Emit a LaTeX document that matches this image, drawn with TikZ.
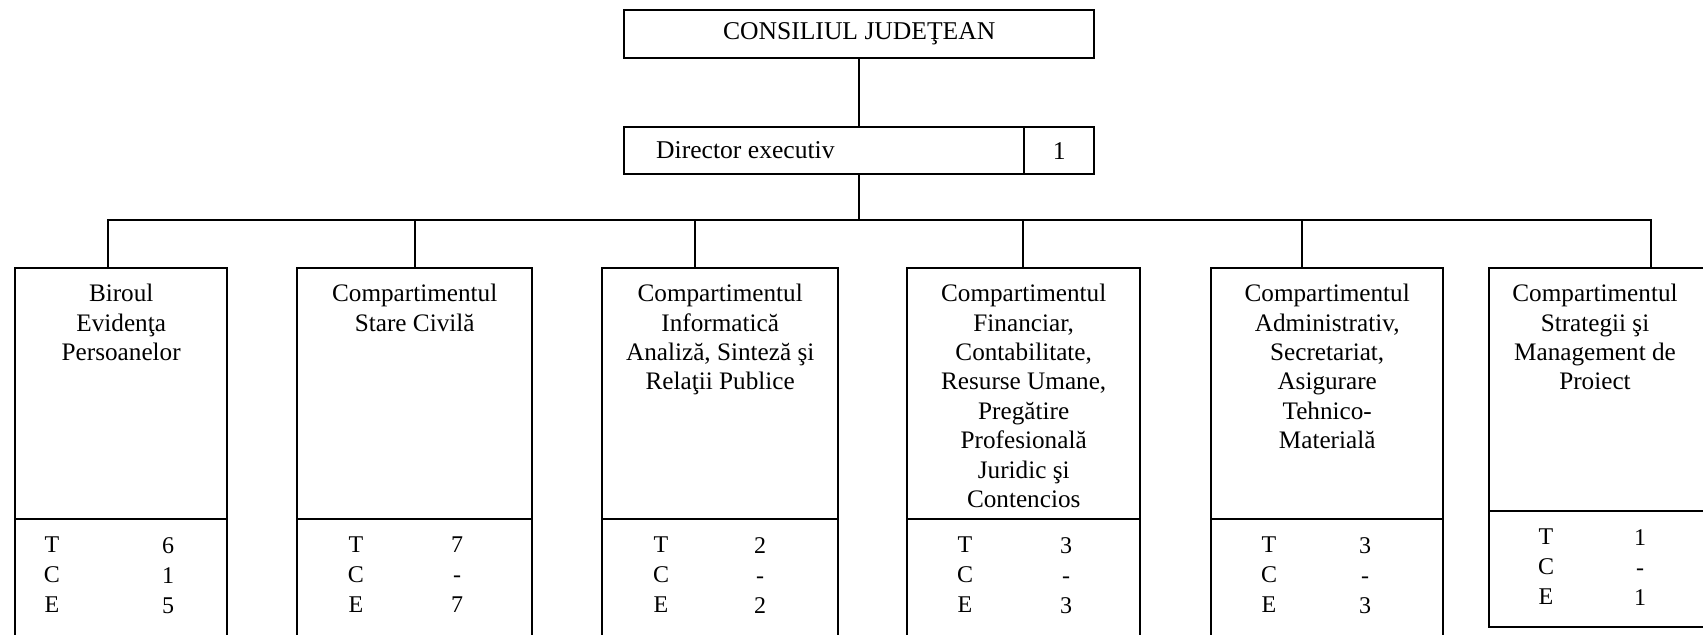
\documentclass[tikz,border=0pt]{standalone}
\usepackage{fontspec}
\setmainfont{Liberation Serif}
\begin{document}
\begin{tikzpicture}[x=0.5pt,y=-0.5pt,line width=1.2pt,
  box/.style={draw, rectangle, inner sep=0pt, anchor=north west},
  ttl/.style={anchor=north, align=center, inner sep=0pt, font=\fontsize{12.6}{14.7}\selectfont},
  tce/.style={anchor=north, align=center, inner sep=0pt, font=\fontsize{12}{15}\selectfont},
  lbl/.style={inner sep=0pt, font=\fontsize{12.8}{15}\selectfont}]
\useasboundingbox (0,0) rectangle (1703,635);

% top boxes
\node[box, minimum width=235pt, minimum height=24pt, font=\fontsize{12.8}{15}\selectfont] (cj) at (623,9) {CONSILIUL JUDEŢEAN};
\node[box, minimum width=200pt, minimum height=23.5pt] (dir) at (623,126) {};
\node[box, minimum width=35pt, minimum height=23.5pt] (dirn) at (1023,126) {};
\node[lbl, anchor=west] (dirt) at (655,150) {Director executiv};
\node[lbl] (dirv) at (dirn.center) {1};

% department boxes: upper (title) and lower (counts)
\node[box, minimum width=106pt,   minimum height=125.5pt] (u1) at (14,267) {};
\node[box, minimum width=106pt,   minimum height=63.5pt]  (l1) at (14,518) {};
\node[box, minimum width=117.5pt, minimum height=125.5pt] (u2) at (296,267) {};
\node[box, minimum width=117.5pt, minimum height=63.5pt]  (l2) at (296,518) {};
\node[box, minimum width=118pt,   minimum height=125.5pt] (u3) at (601,267) {};
\node[box, minimum width=118pt,   minimum height=63.5pt]  (l3) at (601,518) {};
\node[box, minimum width=116.5pt, minimum height=125.5pt] (u4) at (906,267) {};
\node[box, minimum width=116.5pt, minimum height=63.5pt]  (l4) at (906,518) {};
\node[box, minimum width=116pt,   minimum height=125.5pt] (u5) at (1210,267) {};
\node[box, minimum width=116pt,   minimum height=63.5pt]  (l5) at (1210,518) {};
\node[box, minimum width=110pt,   minimum height=121.5pt] (u6) at (1488,267) {};
\node[box, minimum width=110pt,   minimum height=58pt]    (l6) at (1488,510) {};

% titles
\node[ttl] (t1) at ([yshift=-8pt]u1.north) {Biroul\\Evidenţa\\Persoanelor};
\node[ttl] (t2) at ([yshift=-8pt]u2.north) {Compartimentul\\Stare Civilă};
\node[ttl] (t3) at ([yshift=-8pt]u3.north) {Compartimentul\\Informatică\\Analiză, Sinteză şi\\Relaţii Publice};
\node[ttl] (t4) at ([yshift=-8pt]u4.north) {Compartimentul\\Financiar,\\Contabilitate,\\Resurse Umane,\\Pregătire\\Profesională\\Juridic şi\\Contencios};
\node[ttl] (t5) at ([yshift=-8pt]u5.north) {Compartimentul\\Administrativ,\\Secretariat,\\Asigurare\\Tehnico-\\Materială};
\node[ttl] (t6) at (1595,283) {Compartimentul\\Strategii şi\\Management de\\Proiect};

% counts
\node[tce] (k1) at (52,536)   {T\\C\\E};
\node[tce] (n1) at (168,536)  {\vphantom{T}6\\1\\5};
\node[tce] (k2) at (356,536)  {T\\C\\E};
\node[tce] (n2) at (457,536)  {\vphantom{T}7\\-\\7};
\node[tce] (k3) at (661,536)  {T\\C\\E};
\node[tce] (n3) at (760,536)  {\vphantom{T}2\\-\\2};
\node[tce] (k4) at (965,536)  {T\\C\\E};
\node[tce] (n4) at (1066,536) {\vphantom{T}3\\-\\3};
\node[tce] (k5) at (1269,536) {T\\C\\E};
\node[tce] (n5) at (1365,536) {\vphantom{T}3\\-\\3};
\node[tce] (k6) at (1546,528) {T\\C\\E};
\node[tce] (n6) at (1640,528) {\vphantom{T}1\\-\\1};

% connectors
\coordinate (bus) at (860,220);
\coordinate (b1) at (108,267);
\coordinate (b2) at (415,267);
\coordinate (b3) at (695,267);
\coordinate (b4) at (1023,267);
\coordinate (b5) at (1302,267);
\coordinate (b6) at (1651,267);
\draw (cj.south) -- (cj.south |- dir.north);
\draw (cj.south |- dir.south) -- (cj.south |- bus);
\draw (b1) -- (b1 |- bus) -- (b6 |- bus) -- (b6);
\foreach \k in {2,...,5} \draw (b\k) -- (b\k |- bus);
\end{tikzpicture}
\end{document}
